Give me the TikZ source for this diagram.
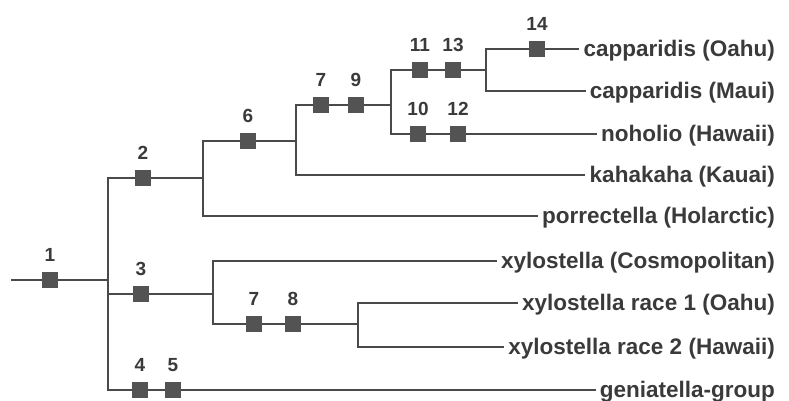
\documentclass[tikz,border=0pt]{standalone}
\usepackage{fontspec}
\setmainfont{Liberation Sans}
\definecolor{branch}{HTML}{4A4A4A}
\definecolor{mark}{HTML}{535353}
\definecolor{ink}{HTML}{3A3A3A}
\begin{document}
\begin{tikzpicture}[x=1pt,y=-1pt,
  edge/.style={draw=branch,line width=1.9pt,line cap=rect},
  sq/.style={rectangle,fill=mark,minimum size=16pt,inner sep=0pt},
  num/.style={font=\fontsize{19}{19}\selectfont\bfseries,text=ink,inner sep=0pt,label distance=10pt},
  leaf/.style={anchor=east,font=\fontsize{22.5}{24}\selectfont\bfseries,text=ink,
    text height=18pt,text depth=4pt,inner xsep=5pt,inner ysep=0pt}]
\useasboundingbox (0,0) rectangle (789,400);

% ---- junction and corner points
\coordinate (root) at (12,280);
\coordinate (j1) at (108,280);
\coordinate (c2) at (108,178);  \coordinate (c3) at (108,294);  \coordinate (c45) at (108,390);
\coordinate (j2) at (203,178);
\coordinate (c6) at (203,141);  \coordinate (cpor) at (203,216);
\coordinate (j6) at (296,141);
\coordinate (c79) at (296,105); \coordinate (ckah) at (296,175);
\coordinate (j9) at (391,105);
\coordinate (c1113) at (391,70); \coordinate (c1012) at (391,134);
\coordinate (j13) at (486,70);
\coordinate (c14) at (486,49);  \coordinate (cmaui) at (486,91);
\coordinate (j3) at (213,294);
\coordinate (ccos) at (213,261); \coordinate (c78) at (213,324);
\coordinate (j8) at (358,324);
\coordinate (cr1) at (358,303); \coordinate (cr2) at (358,347);

% ---- terminal taxa
\node[leaf] (oahu)  at (780,49)  {capparidis (Oahu)};
\node[leaf] (maui)  at (780,91)  {capparidis (Maui)};
\node[leaf] (noho)  at (780,134) {noholio (Hawaii)};
\node[leaf] (kaha)  at (780,175) {kahakaha (Kauai)};
\node[leaf] (porr)  at (780,216) {porrectella (Holarctic)};
\node[leaf] (cosmo) at (780,261) {xylostella (Cosmopolitan)};
\node[leaf] (race1) at (780,303) {xylostella race 1 (Oahu)};
\node[leaf] (race2) at (780,347) {xylostella race 2 (Hawaii)};
\node[leaf] (genia) at (780,390) {geniatella-group};

% ---- branches
\draw[edge] (root) -- (j1);
\draw[edge] (c2) -- (c45);
\draw[edge] (c2) -- (j2);
\draw[edge] (c6) -- (cpor);
\draw[edge] (c6) -- (j6);
\draw[edge] (cpor) -- (porr);
\draw[edge] (c79) -- (ckah);
\draw[edge] (c79) -- (j9);
\draw[edge] (ckah) -- (kaha);
\draw[edge] (c1113) -- (c1012);
\draw[edge] (c1113) -- (j13);
\draw[edge] (c14) -- (cmaui);
\draw[edge] (c14) -- (oahu);
\draw[edge] (cmaui) -- (maui);
\draw[edge] (c1012) -- (noho);
\draw[edge] (c3) -- (j3);
\draw[edge] (ccos) -- (c78);
\draw[edge] (ccos) -- (cosmo);
\draw[edge] (c78) -- (j8);
\draw[edge] (cr1) -- (cr2);
\draw[edge] (cr1) -- (race1);
\draw[edge] (cr2) -- (race2);
\draw[edge] (c45) -- (genia);

% ---- character-state markers
\node[sq,label={[num]above:1}]  (b1)  at (50,280)  {};
\node[sq,label={[num]above:2}]  (b2)  at (143,178) {};
\node[sq,label={[num]above:6}]  (b6)  at (248,141) {};
\node[sq,label={[num]above:7}]  (b7a) at (321,105) {};
\node[sq,label={[num]above:9}]  (b9)  at (356,105) {};
\node[sq,label={[num]above:11}] (b11) at (420,70)  {};
\node[sq,label={[num]above:13}] (b13) at (453,70)  {};
\node[sq,label={[num]above:14}] (b14) at (537,49)  {};
\node[sq,label={[num]above:10}] (b10) at (418,134) {};
\node[sq,label={[num]above:12}] (b12) at (458,134) {};
\node[sq,label={[num]above:3}]  (b3)  at (141,294) {};
\node[sq,label={[num]above:7}]  (b7b) at (254,324) {};
\node[sq,label={[num]above:8}]  (b8)  at (293,324) {};
\node[sq,label={[num]above:4}]  (b4)  at (140,390) {};
\node[sq,label={[num]above:5}]  (b5)  at (173,390) {};
\end{tikzpicture}
\end{document}
